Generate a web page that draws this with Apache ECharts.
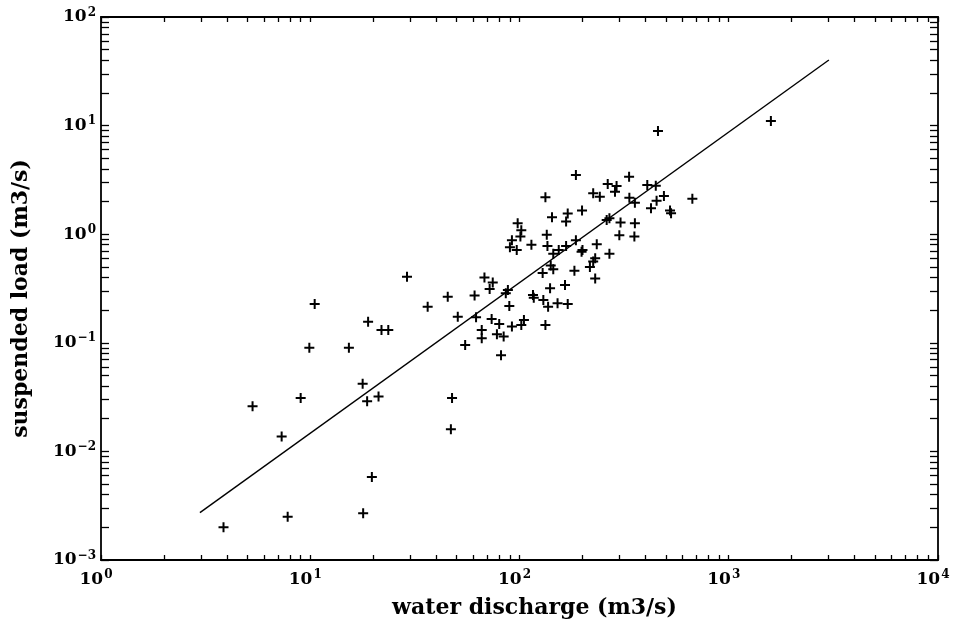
<!DOCTYPE html>
<html>
<head>
<meta charset="utf-8">
<script src="https://cdn.jsdelivr.net/npm/echarts@6/dist/echarts.min.js"></script>
<style>
html,body{margin:0;padding:0;background:#fff;}
#chart{width:955px;height:624px;}
</style>
</head>
<body>
<div id="chart"></div>
<script>
// ---- data ----
const discharge = [3.85, 5.3, 7.3, 7.8, 9.0, 9.9, 10.5, 15.3, 17.8, 18.7, 18.9, 19.7, 17.9, 21.2, 21.9, 23.6,
  47.6, 47, 186, 133, 143, 170, 167, 98, 102, 101, 92, 90, 97, 114, 135, 136, 145, 154, 167, 186,
  141, 145, 129, 183, 29, 68, 74.5, 72, 140, 165, 88, 86, 45.4, 61, 116, 117, 130, 36.4, 89.4, 137,
  152, 170, 50.7, 62, 73.6, 80, 92, 105, 102, 133, 66, 66, 78, 84, 55, 81.6,
  334, 264, 291, 286, 408, 448, 225, 242, 335, 356, 452, 490, 670, 425, 524, 530, 199, 261, 269,
  304, 356, 300, 354, 200, 198, 234, 269, 230, 225, 217, 230, 1590, 459];
const suspendedLoad = [0.0020, 0.026, 0.0137, 0.0025, 0.031, 0.090, 0.228, 0.090, 0.042, 0.029, 0.156, 0.0058, 0.0027, 0.032, 0.131, 0.131,
  0.031, 0.016, 3.5, 2.19, 1.43, 1.55, 1.31, 1.26, 1.09, 0.95, 0.88, 0.76, 0.715, 0.80, 0.99, 0.78, 0.66, 0.715, 0.78, 0.88,
  0.515, 0.475, 0.44, 0.46, 0.406, 0.40, 0.36, 0.313, 0.318, 0.34, 0.306, 0.286, 0.266, 0.272, 0.276, 0.26, 0.248, 0.215, 0.218, 0.215,
  0.231, 0.228, 0.174, 0.172, 0.166, 0.149, 0.141, 0.162, 0.146, 0.146, 0.131, 0.110, 0.120, 0.114, 0.0955, 0.077,
  3.38, 2.90, 2.78, 2.46, 2.84, 2.80, 2.38, 2.21, 2.17, 1.95, 2.03, 2.25, 2.12, 1.73, 1.65, 1.56, 1.65, 1.35, 1.40,
  1.28, 1.26, 0.98, 0.95, 0.715, 0.69, 0.81, 0.66, 0.60, 0.56, 0.50, 0.39, 11.0, 8.9];
const fitDischarge = [2.97, 3010];
const fitLoad = [0.00273, 40.2];

const xTickLabels = [1, 10, 100, 1000, 10000];
const yTickLabels = [0.001, 0.01, 0.1, 1, 10, 100];
const xName = 'water discharge (m3/s)';
const yName = 'suspended load (m3/s)';

// minor tick positions 1..9 in every decade
function decadeTicks(decades) {
  const out = [];
  for (let i = 0; i < decades.length - 1; i++) {
    for (let k = 1; k <= 9; k++) out.push(+(k * decades[i]).toPrecision(6));
  }
  out.push(decades[decades.length - 1]);
  return out;
}
const xTicks = decadeTicks(xTickLabels);
const yTicks = decadeTicks(yTickLabels);

const FONT = 'DejaVu Serif';
function powLabel(v) {
  const e = Math.round(Math.log10(v));
  return '{b|10}{s|' + (e < 0 ? '\u2212' + (-e) : e) + '}';
}
const rich = {
  b: {fontFamily: FONT, fontSize: 17, fontWeight: 'bold', color: '#000'},
  s: {fontFamily: FONT, fontSize: 12, fontWeight: 'bold', color: '#000', padding: [0, 0, 9, 1]}
};

function xAx(pos, labels) {
  return {
    type: 'log', logBase: 10, min: 1, max: 10000, position: pos,
    splitLine: {show: false},
    axisLine: {show: true, onZero: false, lineStyle: {color: '#000', width: 1.8}},
    axisTick: {show: true, inside: true, length: 5, customValues: xTicks, lineStyle: {color: '#000', width: 1.3}},
    axisLabel: labels ? {show: true, customValues: xTickLabels, formatter: powLabel, rich: rich, margin: 9, padding: [0, 10, 0, 0]} : {show: false},
    name: labels ? xName : '', nameLocation: 'middle', nameGap: 37,
    nameTextStyle: {fontFamily: FONT, fontSize: 22, fontWeight: 'bold', color: '#000', padding: [0, 0, 0, 30]}
  };
}
function yAx(pos, labels) {
  return {
    type: 'log', logBase: 10, min: 0.001, max: 100, position: pos,
    splitLine: {show: false},
    axisLine: {show: true, onZero: false, lineStyle: {color: '#000', width: 1.8}},
    axisTick: {show: true, inside: true, length: 8, customValues: yTicks, lineStyle: {color: '#000', width: 1.3}},
    axisLabel: labels ? {show: true, customValues: yTickLabels, formatter: powLabel, rich: rich, margin: 5} : {show: false},
    name: labels ? yName : '', nameLocation: 'middle', nameGap: 69, nameRotate: 90,
    nameTextStyle: {fontFamily: FONT, fontSize: 22, fontWeight: 'bold', color: '#000', padding: [0, 20, 0, 0]}
  };
}

const PLUS = 'path://M4,0H6V4H10V6H6V10H4V6H0V4H4Z';

const chart = echarts.init(document.getElementById('chart'), null, {renderer: 'canvas'});
chart.setOption({
  backgroundColor: '#fff',
  animation: false,
  grid: {left: 101, right: 17, top: 17, bottom: 64, containLabel: false},
  xAxis: [xAx('bottom', true), xAx('top', false)],
  yAxis: [yAx('left', true), yAx('right', false)],
  series: [
    {
      type: 'scatter', xAxisIndex: 0, yAxisIndex: 0,
      symbol: PLUS, symbolSize: 10,
      itemStyle: {color: '#000', opacity: 1},
      data: discharge.map((x, i) => [x, suspendedLoad[i]])
    },
    {
      type: 'line', xAxisIndex: 0, yAxisIndex: 0,
      showSymbol: false, symbol: 'none',
      lineStyle: {color: '#000', width: 1.4},
      data: fitDischarge.map((x, i) => [x, fitLoad[i]])
    }
  ]
});
</script>
</body>
</html>
